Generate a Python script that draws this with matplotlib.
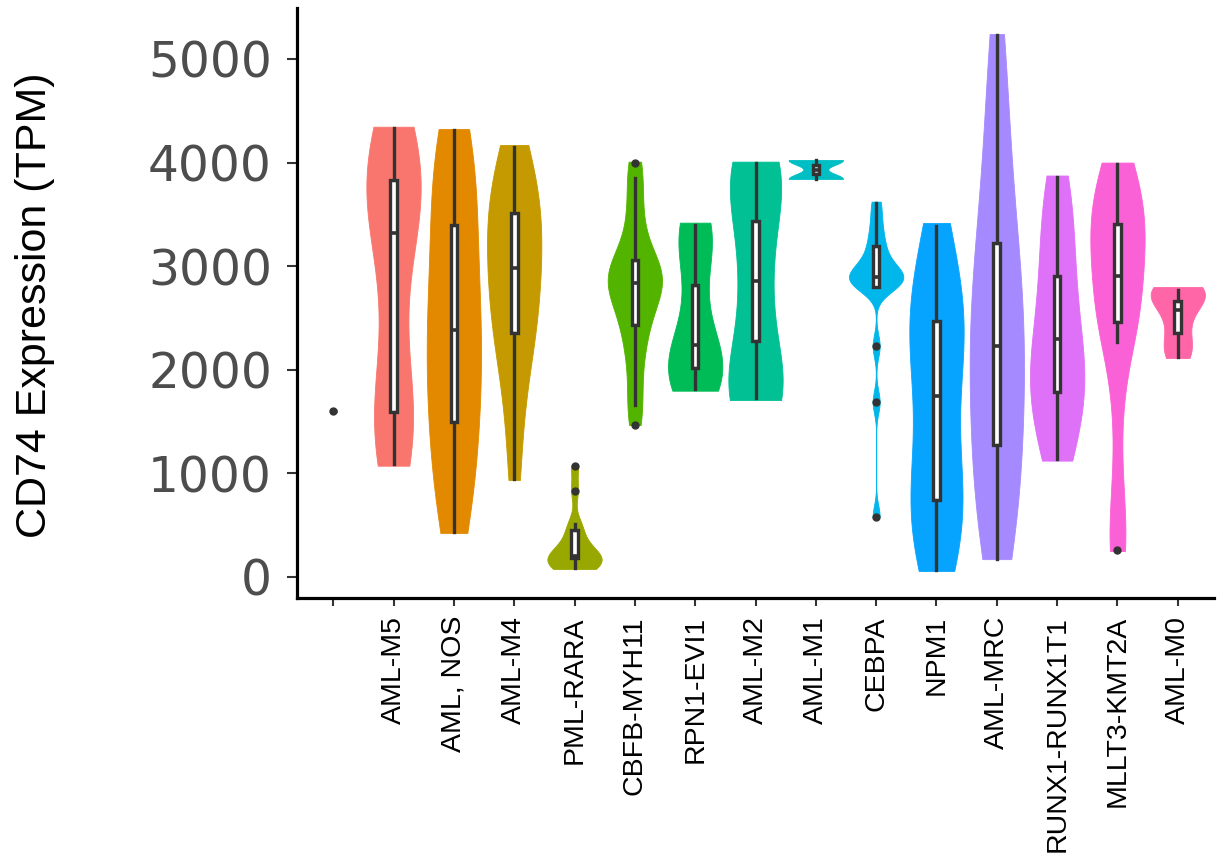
import numpy as np
import matplotlib.pyplot as plt
from matplotlib import font_manager

# groups on the x axis (first one has an empty label, single sample)
categories = ["", "AML-M5", "AML, NOS", "AML-M4", "PML-RARA", "CBFB-MYH11",
              "RPN1-EVI1", "AML-M2", "AML-M1", "CEBPA", "NPM1", "AML-MRC",
              "RUNX1-RUNX1T1", "MLLT3-KMT2A", "AML-M0"]

fill_colors = ["#F8766D", "#F8766D", "#E38900", "#C49A00", "#99A800", "#53B400",
               "#00BC56", "#00C094", "#00BFC4", "#00B6EB", "#06A4FF", "#A58AFF",
               "#DF70F8", "#FB61D7", "#FF66A8"]

# estimated CD74 TPM per sample (used for the violins)
unlabeled = [1600]
aml_m5 = [1074, 1250, 1400, 1500, 1592, 1900, 2400, 2900, 3320, 3450, 3600, 3720,
          3832, 3950, 4100, 4230, 4346]
aml_nos = [425, 700, 1000, 1250, 1500, 1750, 1950, 2150, 2384, 2600, 2800, 3050,
           3398, 3650, 3900, 4100, 4324]
aml_m4 = [936, 1500, 1900, 2150, 2355, 2500, 2650, 2800, 2983, 3100, 3250, 3400,
          3513, 3650, 3800, 4000, 4170]
pml_rara = [77, 85, 100, 120, 150, 183, 198, 203, 230, 280, 350, 454, 512, 833, 1074]
cbfb_myh11 = [1467, 1660, 1900, 2150, 2300, 2432, 2550, 2650, 2720, 2780, 2841,
              2880, 2920, 2960, 3010, 3060, 3200, 3400, 3600, 3851, 4009]
rpn1_evi1 = [1798, 1850, 1920, 2000, 2017, 2100, 2239, 2450, 2819, 3150, 3300,
             3380, 3420]
aml_m2 = [1708, 1712, 1720, 1735, 1760, 1800, 1900, 2100, 2350, 2600, 2800, 3000,
          3200, 3450, 3650, 3800, 3880, 3930, 3965, 3990, 4009]
aml_m1 = [3842, 4025]
cebpa = [582, 1689, 2230, 2802, 2810, 2840, 2870, 2890, 2899, 2930, 2970, 3020,
         3100, 3195, 3300, 3450, 3623]
npm1 = [58, 200, 400, 600, 743, 900, 1100, 1400, 1747, 2000, 2200, 2350, 2474,
        2650, 2850, 3100, 3417]
aml_mrc = [172, 350, 550, 800, 1050, 1274, 1450, 1650, 1850, 2050, 2230, 2400,
           2600, 2800, 3000, 3224, 3500, 3850, 4250, 4700, 5241]
runx1 = [1123, 1250, 1450, 1650, 1786, 1900, 2000, 2100, 2297, 2500, 2700, 2909,
         3150, 3400, 3650, 3875]
mllt3 = [250, 320, 900, 1700, 2268, 2400, 2462, 2600, 2800, 2909, 3050,
         3200, 3300, 3410, 3500, 3600, 3750, 3900, 4000]
aml_m0 = [2114, 2150, 2250, 2350, 2500, 2600, 2680, 2720, 2750, 2770, 2790, 2799]

groups = [unlabeled, aml_m5, aml_nos, aml_m4, pml_rara, cbfb_myh11, rpn1_evi1,
          aml_m2, aml_m1, cebpa, npm1, aml_mrc, runx1, mllt3, aml_m0]

# boxplot statistics
whisk_lo = [1600, 1090, 430, 950, 87, 1660, 1815, 1728, 3842, 2802, 70, 174, 1139, 2268, 2127]
box_q1 = [1600, 1592, 1500, 2355, 183, 2432, 2017, 2281, 3888, 2802, 743, 1274, 1786, 2462, 2355]
box_med = [1600, 3320, 2384, 2983, 203, 2841, 2239, 2857, 3933, 2899, 1747, 2230, 2297, 2909, 2577]
box_q3 = [1600, 3832, 3398, 3513, 454, 3060, 2819, 3436, 3979, 3195, 2474, 3224, 2909, 3410, 2667]
whisk_hi = [1600, 4334, 4310, 4155, 512, 3851, 3398, 4000, 4025, 3610, 3392, 5230, 3860, 3985, 2770]
outliers = [[1600], [], [], [], [833, 1074], [1467, 4000], [], [], [], [2230, 1689, 582],
            [], [], [], [260], []]


def bw_nrd0(x):
    x = np.asarray(x, float)
    sd = x.std(ddof=1)
    q75, q25 = np.percentile(x, [75, 25])
    lo = min(sd, (q75 - q25) / 1.34)
    if lo == 0:
        lo = sd
    return 0.9 * lo * len(x) ** -0.2


installed = {f.name for f in font_manager.fontManager.ttflist}
narrow = "Liberation Sans Narrow" in installed
label_font = "Liberation Sans Narrow" if narrow else "Liberation Sans"
xlab_size = 25 if narrow else 20.5
ylab_size = 37.5 if narrow else 31

fig = plt.figure(figsize=(12.29, 8.6), dpi=100)
ax = fig.add_axes([297 / 1229, 1 - 598 / 860, (1214 - 297) / 1229, 590 / 860])

# violins (scaled so every group reaches the same width)
for i, vals in enumerate(groups):
    if len(vals) < 2:
        continue
    vals = np.asarray(vals, float)
    bw = bw_nrd0(vals)
    y = np.linspace(vals.min(), vals.max(), 512)
    dens = np.exp(-0.5 * ((y[:, None] - vals[None, :]) / bw) ** 2).sum(axis=1)
    half = 0.45 * dens / dens.max()
    ax.fill_betweenx(y, i - half, i + half, color=fill_colors[i], lw=0.6,
                     edgecolor=fill_colors[i], zorder=1)

stats = []
for i in range(len(categories)):
    stats.append(dict(whislo=whisk_lo[i], q1=box_q1[i], med=box_med[i],
                      q3=box_q3[i], whishi=whisk_hi[i], fliers=outliers[i]))

dark = "#333333"
ax.bxp(stats, positions=range(len(categories)), widths=0.11, patch_artist=True,
       showcaps=False, manage_ticks=False, zorder=3,
       boxprops=dict(facecolor="white", edgecolor=dark, lw=2.4),
       whiskerprops=dict(color=dark, lw=2.4),
       medianprops=dict(color=dark, lw=2.6),
       flierprops=dict(marker="o", markerfacecolor=dark, markeredgecolor=dark,
                       markersize=5))

ax.set_xlim(-0.6, len(categories) - 0.4)
ax.set_ylim(-203, 5492)

ax.set_yticks([0, 1000, 2000, 3000, 4000, 5000])
ax.set_yticklabels(["0", "1000", "2000", "3000", "4000", "5000"],
                   fontsize=35, color="#4D4D4D", family="DejaVu Sans")
ax.set_xticks(range(len(categories)))
ax.set_xticklabels(categories, rotation=90, fontsize=xlab_size, color="black",
                   family=label_font)
ax.tick_params(axis="y", length=7, width=1.5, color=dark, pad=11)
ax.tick_params(axis="x", length=6, width=1.5, color=dark, pad=7)

for side in ["top", "right"]:
    ax.spines[side].set_visible(False)
for side in ["left", "bottom"]:
    ax.spines[side].set_linewidth(2.3)
    ax.spines[side].set_color("black")

ax.set_ylabel("CD74 Expression (TPM)", fontsize=ylab_size, family=label_font,
              color="black", va="center")
ax.yaxis.set_label_coords((35 - 297) / (1214 - 297), (598 - 305) / 590)

fig.savefig("out.png", dpi=100)
